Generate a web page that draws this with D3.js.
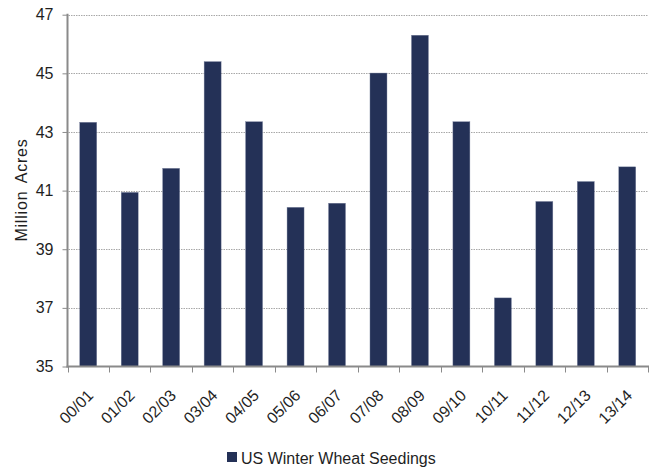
<!DOCTYPE html>
<html>
<head>
<meta charset="utf-8">
<script src="https://cdn.jsdelivr.net/npm/d3@7"></script>
<style>
  html, body { margin: 0; padding: 0; background: #fff; }
  svg { display: block; font-family: "Liberation Sans", Arial, sans-serif; }
</style>
</head>
<body>
<svg id="chart" width="658" height="468"></svg>
<script>
// US winter wheat seedings by marketing year (million acres)
const seasons = ["00/01", "01/02", "02/03", "03/04", "04/05", "05/06", "06/07",
                 "07/08", "08/09", "09/10", "10/11", "11/12", "12/13", "13/14"];
const seedings = [43.33, 40.94, 41.76, 45.40, 43.35, 40.43, 40.57,
                  45.01, 46.30, 43.35, 37.34, 40.63, 41.31, 41.81];
const yTicks = [35, 37, 39, 41, 43, 45, 47];
const seriesName = "US Winter Wheat Seedings";
const yTitle = "Million Acres";

const svg = d3.select("#chart");
const m = { left: 67.5, right: 648, top: 14.7, bottom: 366.5 };
const barColor = "#243157";
const axisColor = "#8a8a8a";
const textColor = "#1f1f1f";

const x = d3.scaleBand().domain(seasons).range([m.left, m.right])
  .paddingInner(0.59).paddingOuter(0.295);
const y = d3.scaleLinear().domain([35, 47]).range([m.bottom, m.top]);
const step = x.step();

// dotted horizontal gridlines
svg.append("g").selectAll("line")
  .data(yTicks.filter(t => t > 35))
  .join("line")
  .attr("x1", m.left + 1).attr("x2", m.right)
  .attr("y1", d => Math.round(y(d)) + 0.5).attr("y2", d => Math.round(y(d)) + 0.5)
  .attr("stroke", "#a8a8a8").attr("stroke-width", 1)
  .attr("stroke-dasharray", "1.5,1");

// bars
svg.append("g").selectAll("rect")
  .data(seasons.map((s, i) => ({ s, v: seedings[i] })))
  .join("rect")
  .attr("x", d => x(d.s))
  .attr("width", x.bandwidth())
  .attr("y", d => y(d.v))
  .attr("height", d => y(35) - y(d.v))
  .attr("fill", barColor)
  .attr("stroke", "#7d86a0").attr("stroke-width", 0.4);

// y axis
const yAxis = d3.axisLeft(y).tickValues(yTicks).tickSize(5).tickPadding(9)
  .tickFormat(d3.format("d"));
const gy = svg.append("g").attr("transform", `translate(${m.left},0)`).call(yAxis);
gy.select(".domain").attr("stroke", axisColor).attr("stroke-width", 2)
  .attr("d", `M0,${m.top - 1}V${m.bottom + 1}`);
gy.selectAll(".tick line").attr("stroke", axisColor).attr("stroke-width", 1);
gy.selectAll(".tick text").attr("fill", textColor)
  .style("font-size", "16px").style("font-family", "Liberation Sans, Arial, sans-serif");

// x axis: line with ticks at category boundaries
const gx = svg.append("g");
gx.append("line").attr("x1", m.left - 1).attr("x2", m.right + 1)
  .attr("y1", m.bottom).attr("y2", m.bottom)
  .attr("stroke", axisColor).attr("stroke-width", 2);
gx.selectAll("line.tk")
  .data(d3.range(seasons.length + 1))
  .join("line").attr("class", "tk")
  .attr("x1", i => Math.round(m.left + i * step) + 0.5)
  .attr("x2", i => Math.round(m.left + i * step) + 0.5)
  .attr("y1", m.bottom).attr("y2", m.bottom + 6)
  .attr("stroke", axisColor).attr("stroke-width", 1);
gx.selectAll("text")
  .data(seasons)
  .join("text")
  .attr("transform", d => `translate(${x(d) + x.bandwidth() / 2 + 6},${m.bottom + 30}) rotate(-45)`)
  .attr("text-anchor", "end")
  .attr("fill", textColor)
  .style("font-size", "16px")
  .text(d => d);

// y axis title
svg.append("text")
  .attr("transform", `translate(27,190) rotate(-90)`)
  .attr("text-anchor", "middle")
  .attr("fill", textColor)
  .style("font-size", "16px")
  .style("letter-spacing", "0.8px")
  .style("word-spacing", "3px")
  .text(yTitle);

// legend
const lg = svg.append("g");
lg.append("rect").attr("x", 227).attr("y", 452).attr("width", 10).attr("height", 10)
  .attr("fill", barColor);
lg.append("text").attr("x", 241).attr("y", 464)
  .attr("fill", textColor).style("font-size", "16px")
  .text(seriesName);
</script>
</body>
</html>
